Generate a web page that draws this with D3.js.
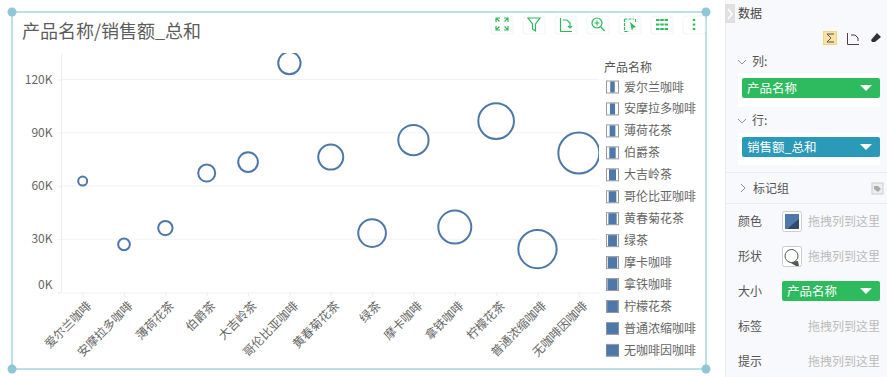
<!DOCTYPE html>
<html>
<head>
<meta charset="utf-8">
<script src="https://cdn.jsdelivr.net/npm/d3@7"></script>
<style>
  html, body { margin: 0; padding: 0; background: #fff; overflow: hidden; }
  text { font-family: "Noto Sans CJK SC", "Noto Sans", sans-serif; }
  .axis path, .axis line { stroke: #efefef; }
  .axis text { fill: #666; font-size: 12px; }
</style>
</head>
<body>
<script>
const categories = ['爱尔兰咖啡', '安摩拉多咖啡', '薄荷花茶', '伯爵茶', '大吉岭茶', '哥伦比亚咖啡', '黄春菊花茶', '绿茶', '摩卡咖啡', '拿铁咖啡', '柠檬花茶', '普通浓缩咖啡', '无咖啡因咖啡'];
const sales = [62500, 26800, 36000, 67000, 73200, 129000, 76000, 33200, 85600, 36600, 96300, 24200, 78300];
const yTicks = [0, 30000, 60000, 90000, 120000];
const chartTitle = '产品名称/销售额_总和';
const legendTitle = '产品名称';

const WIDTH = 887, HEIGHT = 377;
const PLOT = { left: 61, right: 599, top: 53, bottom: 292 };
const BLUE = '#4e78a9', GREEN = '#2dbb5d', TEAL = '#2b9ab8', FRAME = '#bcdee6', HANDLE = '#8dc7d8';

const SVG = d3.select('body').append('svg')
  .attr('width', WIDTH)
  .attr('height', HEIGHT)
  .style('display', 'block');

// scales
const xScale = d3.scalePoint().domain(categories).range([62, 599.5]).padding(0.5);
const yScale = d3.scaleLinear().domain([0, 30000]).range([PLOT.bottom, PLOT.bottom - 53.25]);
const rScale = d3.scaleLinear().domain([0, categories.length - 1]).range([4.5, 20.5]);   // size follows category
const barScale = d3.scaleLinear().domain([0, categories.length - 1]).range([4.5, 12]);

// frame
SVG.append('rect').attr('x', 12).attr('y', 12).attr('width', 694).attr('height', 357)
  .attr('fill', '#fff').attr('stroke', FRAME).attr('stroke-width', 2);
[[12, 12], [706, 12], [12, 369], [706, 369]].forEach(p => {
  SVG.append('circle').attr('cx', p[0]).attr('cy', p[1]).attr('r', 4.5).attr('fill', HANDLE);
});

SVG.append('text').attr('x', 22).attr('y', 38).attr('font-size', 18).attr('fill', '#5c5c5c').text(chartTitle);

// grid lines
SVG.append('g').selectAll('line').data(yTicks.slice(1)).enter().append('line')
  .attr('x1', PLOT.left).attr('x2', PLOT.right)
  .attr('y1', d => yScale(d) + 0.5).attr('y2', d => yScale(d) + 0.5)
  .attr('stroke', '#f2f2f2');

// y axis
const yAxis = d3.axisLeft(yScale).tickValues(yTicks).tickSize(4).tickPadding(5)
  .tickFormat(d => (d / 1000) + 'K');
const yG = SVG.append('g').attr('class', 'axis')
  .attr('transform', `translate(${PLOT.left + 0.5},0.5)`)
  .call(yAxis);
yG.select('.domain').attr('d', `M-4,${PLOT.bottom}H0V${PLOT.top}`);
yG.selectAll('.tick text').attr('dy', d => d === 0 ? '-0.35em' : '0.3em');

// x axis
const xAxis = d3.axisBottom(xScale).tickSize(4).tickSizeOuter(0);
const xG = SVG.append('g').attr('class', 'axis')
  .attr('transform', `translate(0,${PLOT.bottom + 0.5})`)
  .call(xAxis);
xG.selectAll('.tick text')
  .attr('text-anchor', 'end')
  .attr('x', 0).attr('y', 0).attr('dy', 0)
  .attr('transform', 'translate(9,14) rotate(-45)');

// bubbles
SVG.append('clipPath').attr('id', 'plotclip').append('rect')
  .attr('x', PLOT.left).attr('y', PLOT.top)
  .attr('width', PLOT.right - PLOT.left).attr('height', PLOT.bottom - PLOT.top);
SVG.append('g').attr('clip-path', 'url(#plotclip)')
  .selectAll('circle').data(categories).enter().append('circle')
  .attr('cx', d => xScale(d))
  .attr('cy', (d, i) => yScale(sales[i]))
  .attr('r', (d, i) => rScale(i))
  .attr('fill', 'none')
  .attr('stroke', BLUE)
  .attr('stroke-width', 2);

// legend
const legend = SVG.append('g');
legend.append('text').attr('x', 604).attr('y', 72).attr('font-size', 12).attr('fill', '#555').text(legendTitle);
const rows = legend.selectAll('g.row').data(categories).enter().append('g')
  .attr('class', 'row')
  .attr('transform', (d, i) => `translate(606,${80.5 + i * 21.95})`);
rows.append('rect').attr('x', 0.5).attr('y', 0.5).attr('width', 12).attr('height', 12)
  .attr('fill', '#fff').attr('stroke', '#999');
rows.append('rect')
  .attr('x', (d, i) => 6.5 - barScale(i) / 2)
  .attr('y', 1)
  .attr('width', (d, i) => barScale(i))
  .attr('height', 11)
  .attr('fill', BLUE);
rows.append('text').attr('x', 18).attr('y', 11).attr('font-size', 12).attr('fill', '#666').text(d => d);

// toolbar
const toolX = [491, 523, 555, 587, 619, 651, 683];
const toolIcons = [
  'M5,6V2H9M13,2H17V6M17,10V14H13M9,14H5V10M5,2L8.5,5.5M17,2L13.5,5.5M17,14L13.5,10.5M5,14L8.5,10.5',
  'M5,2H17L12.5,8V15L9.5,13V8Z',
  'M5.5,2V15.5H17M8,4H12L15,7V12M13,10L15,12L17,10',
  'M5,7a5,5 0 1,0 10,0a5,5 0 1,0 -10,0M7.5,7H12.5M10,4.5V9.5M13.5,10.5L17.5,15',
  'M5.5,3H15M5.5,3V15.5M5.5,15.5H10M16.5,3V7',
  'M5,4H17M5,8.5H17M5,13H17',
  'M11,3V5M11,7.5V9.5M11,12V14'
];
const tools = SVG.append('g').selectAll('g').data(toolX).enter().append('g')
  .attr('transform', d => `translate(${d},16)`);
tools.append('rect').attr('width', 22).attr('height', 18).attr('rx', 3)
  .attr('fill', '#fff').attr('stroke', '#f4f4f4');
tools.append('path').attr('d', (d, i) => toolIcons[i]).attr('fill', 'none')
  .attr('stroke', GREEN).attr('stroke-width', (d, i) => i === 5 ? 2 : i === 6 ? 2.5 : 1.2)
  .attr('stroke-dasharray', (d, i) => i === 4 ? '3 1' : i === 5 ? '3.5 0.8' : null);
tools.filter((d, i) => i === 4).append('path').attr('d', 'M11,6L17,11L14,12L13,15Z').attr('fill', GREEN);

// side panel
const panel = SVG.append('g');
panel.append('rect').attr('x', 725).attr('y', 0).attr('width', 162).attr('height', HEIGHT).attr('fill', '#f8f9fc');
panel.append('line').attr('x1', 725.5).attr('x2', 725.5).attr('y1', 0).attr('y2', HEIGHT).attr('stroke', '#eceef2');
panel.append('rect').attr('x', 725).attr('y', 4).attr('width', 10).attr('height', 19).attr('fill', '#e0e0e0');
panel.append('path').attr('d', 'M728,9L732,14L728,19').attr('fill', 'none').attr('stroke', '#fff').attr('stroke-width', 1.5);

function label(x, y, s, color, size) {
  panel.append('text').attr('x', x).attr('y', y).attr('font-size', size || 12).attr('fill', color || '#555').text(s);
}
function pill(x, y, w, s, color) {
  panel.append('rect').attr('x', x).attr('y', y).attr('width', w).attr('height', 20).attr('rx', 2).attr('fill', color);
  panel.append('text').attr('x', x + 5).attr('y', y + 14.5).attr('font-size', 12.5).attr('fill', '#fff').text(s);
  panel.append('path').attr('d', `M${x + w - 20},${y + 7}h12l-6,6z`).attr('fill', '#fff');
}
function chevronDown(x, y) {
  panel.append('path').attr('d', `M${x},${y}l4,4l4,-4`).attr('fill', 'none').attr('stroke', '#8a94a0');
}

label(738, 18, '数据', '#444');
panel.append('rect').attr('x', 823.5).attr('y', 31.5).attr('width', 13).attr('height', 13).attr('fill', '#f8e3a0').attr('stroke', '#eed58a');
panel.append('path').attr('d', 'M834,34H827L831,38L827,42H834').attr('fill', 'none').attr('stroke', '#555');
panel.append('path').attr('d', 'M847.5,33V44.5H859M851,35H855L858,38V41').attr('fill', 'none').attr('stroke', '#553c3c');
panel.append('path').attr('d', 'M871,40L877,33L881,37L875,42H872Z').attr('fill', '#333');

chevronDown(738, 60);
label(752, 66, '列:');
panel.append('rect').attr('x', 738).attr('y', 73).attr('width', 142).attr('height', 34).attr('fill', '#fff');
pill(742, 78, 138, '产品名称', GREEN);

chevronDown(738, 119);
label(752, 125, '行:');
panel.append('rect').attr('x', 738).attr('y', 133).attr('width', 142).attr('height', 32).attr('fill', '#fff');
pill(742, 137, 138, '销售额_总和', TEAL);

[172.5, 203.5].forEach(y => {
  panel.append('line').attr('x1', 726).attr('x2', 887).attr('y1', y).attr('y2', y).attr('stroke', '#e8eaef');
});
panel.append('path').attr('d', 'M741,184l4,4l-4,4').attr('fill', 'none').attr('stroke', '#8a94a0');
label(753, 193, '标记组');
panel.append('rect').attr('x', 872).attr('y', 183).attr('width', 11).attr('height', 11).attr('fill', '#eee').attr('stroke', '#ccc');
panel.append('path').attr('d', 'M874,186h4l3,3l-3,3l-4,-3z').attr('fill', '#aaa');

label(738, 226, '颜色');
label(738, 261, '形状');
label(738, 296, '大小');
label(738, 331, '标签');
label(738, 366, '提示');

panel.append('rect').attr('x', 782.5).attr('y', 211.5).attr('width', 19).attr('height', 20).attr('rx', 2).attr('fill', '#fff').attr('stroke', '#ccc');
panel.append('rect').attr('x', 785).attr('y', 214).attr('width', 14).attr('height', 15).attr('fill', BLUE);
panel.append('path').attr('d', 'M799,219V229H787Z').attr('fill', '#2f4a6e');
panel.append('rect').attr('x', 782.5).attr('y', 246.5).attr('width', 19).attr('height', 20).attr('rx', 2).attr('fill', '#fff').attr('stroke', '#ccc');
panel.append('path').attr('d', 'M798,261L789,262L796,266H799Z').attr('fill', '#555');
panel.append('circle').attr('cx', 791.5).attr('cy', 256).attr('r', 6.5).attr('fill', '#fff').attr('stroke', '#555');

pill(782, 281, 98, '产品名称', GREEN);
[226, 261, 331, 366].forEach(y => label(808, y, '拖拽列到这里', '#bbb'));
</script>
</body>
</html>
